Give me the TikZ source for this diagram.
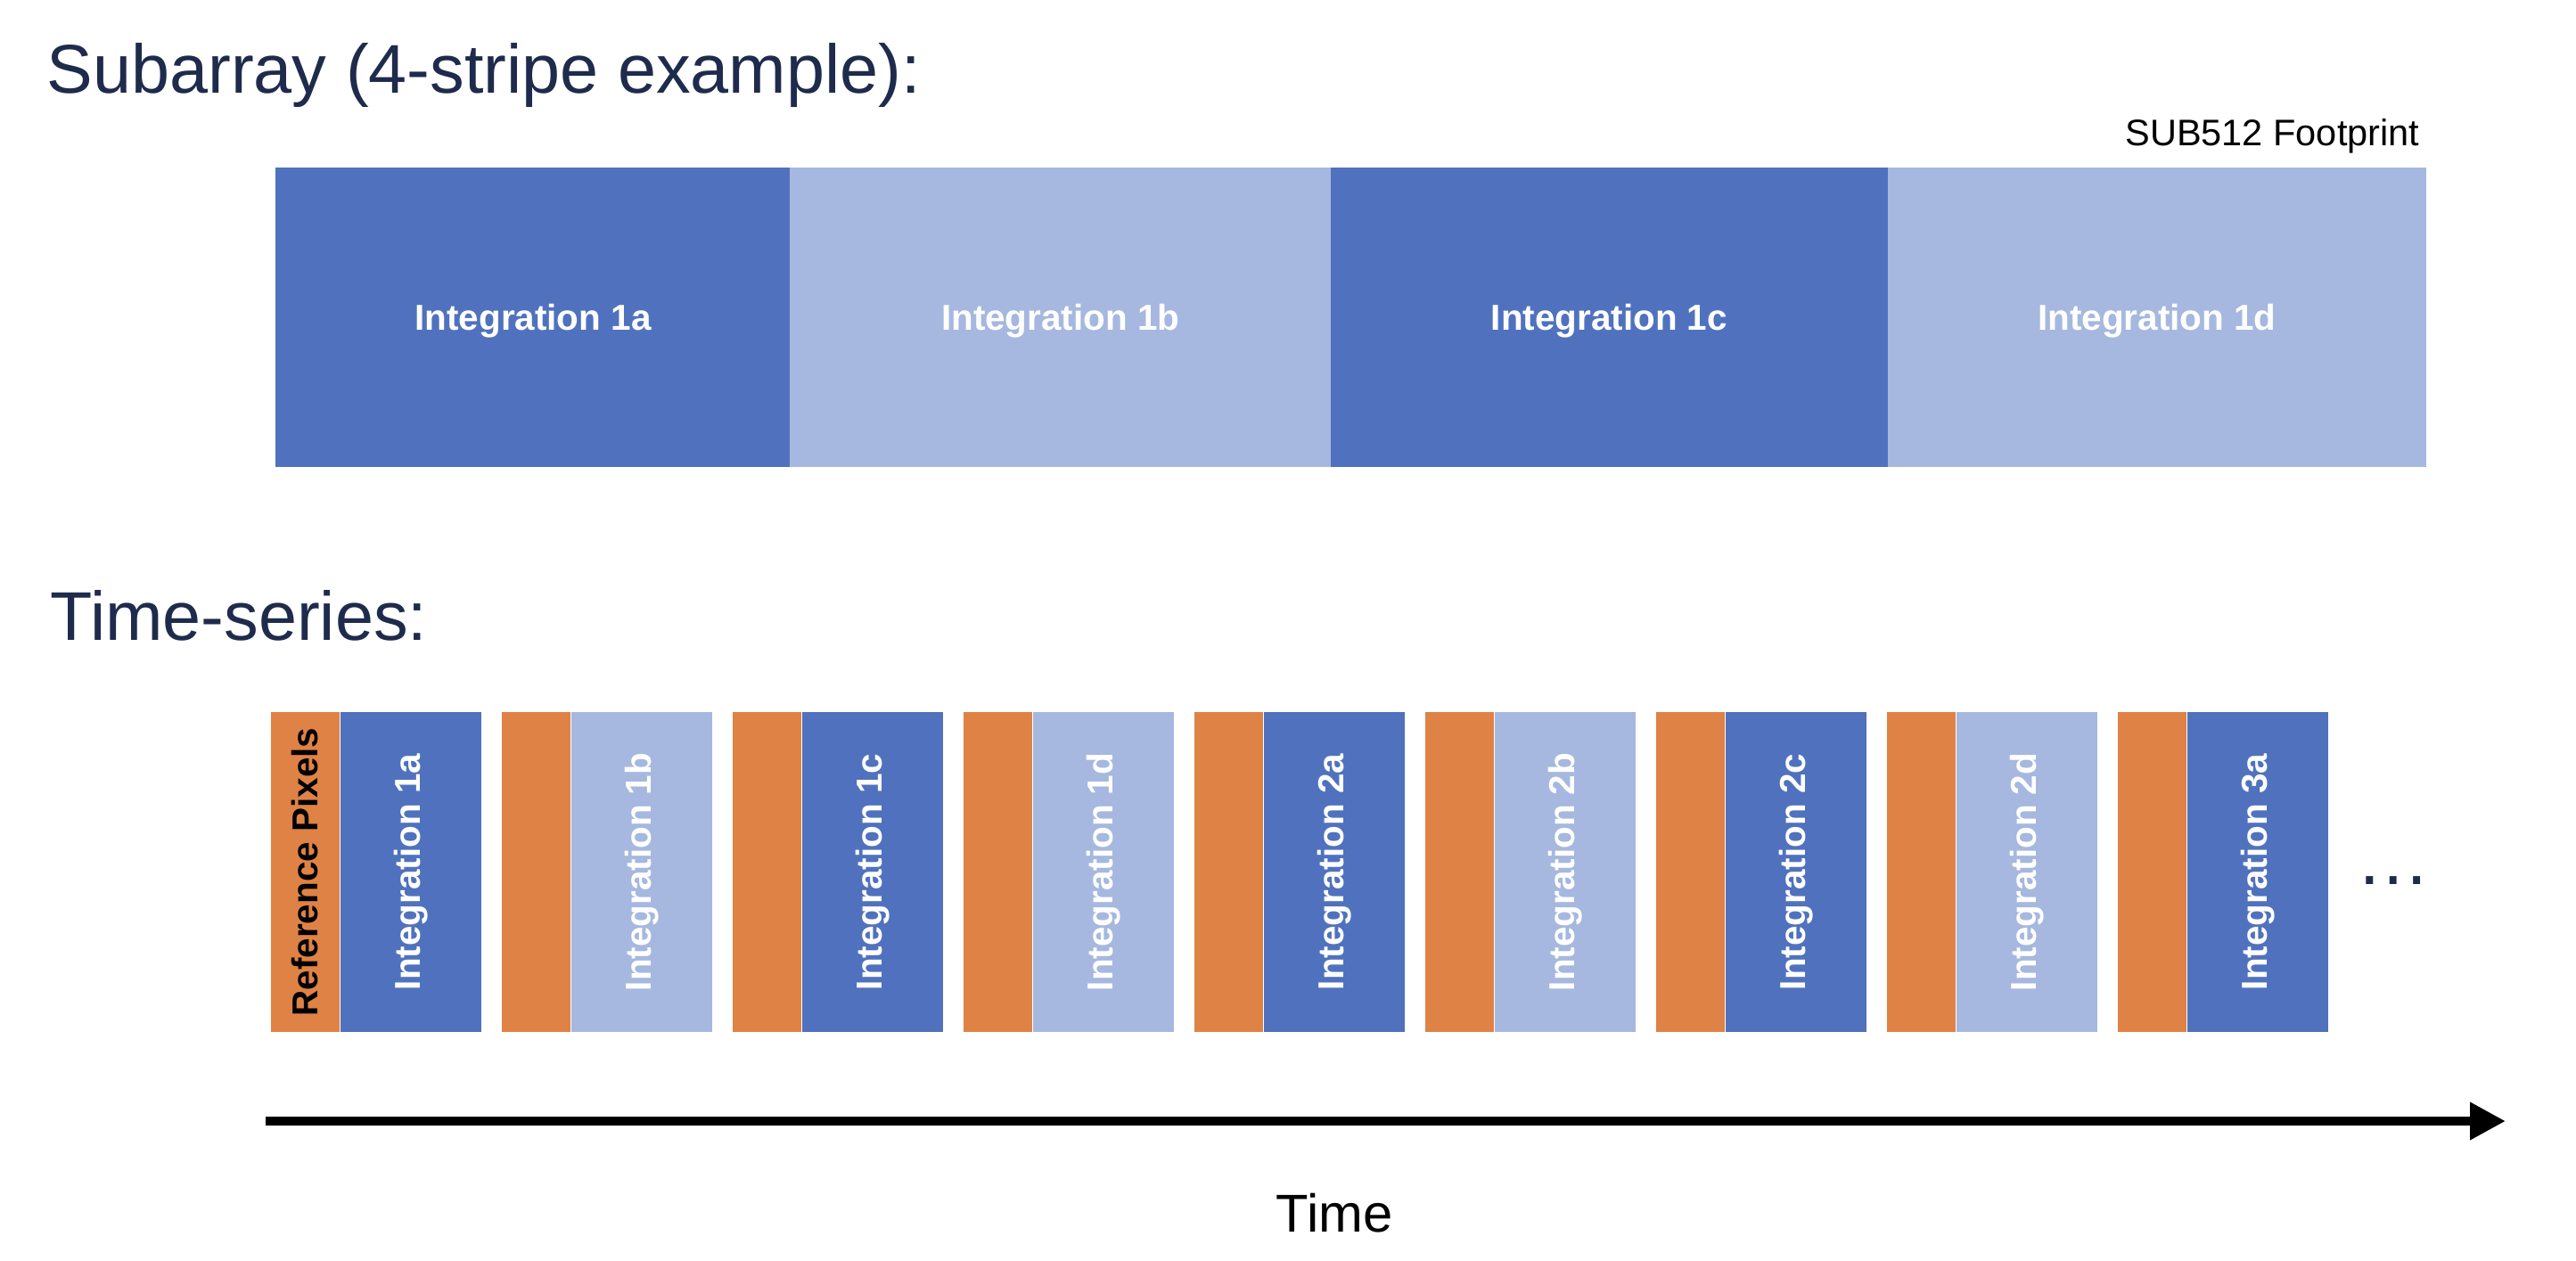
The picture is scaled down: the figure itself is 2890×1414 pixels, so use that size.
\documentclass[tikz,border=0pt]{standalone}
\usepackage{fontspec}
\setmainfont{Liberation Sans}
\usepackage{xcolor}
\usepackage{tikz}
\usetikzlibrary{arrows.meta}
\usetikzlibrary{positioning}
\definecolor{dkblue}{RGB}{80,114,190}
\definecolor{ltblue}{RGB}{166,184,223}
\definecolor{refpix}{RGB}{223,130,69}
\definecolor{navy}{RGB}{31,43,76}
\tikzstyle{heading} = [draw = none, inner sep = 0, text = navy, font = \fontsize{22}{26}\selectfont]
\tikzstyle{stripe} = [rectangle, draw = none, inner sep = 0, minimum height = 3.36cm, text = white, font = \fontsize{11.5}{13}\selectfont\bfseries]
\tikzstyle{refcol} = [rectangle, draw = none, inner sep = 0, minimum width = 0.765cm, minimum height = 3.59cm, fill = refpix, font = \fontsize{11.5}{13}\selectfont\bfseries]
\tikzstyle{intcol} = [rectangle, draw = none, inner sep = 0, minimum width = 1.58cm, minimum height = 3.59cm, text = white, font = \fontsize{11.5}{13}\selectfont\bfseries]

\begin{document}
\begin{tikzpicture}[x = 0.01cm, y = -0.01cm]
\useasboundingbox (0, 0) rectangle (2890, 1414);
\node [heading, anchor = base west] (title) at (52, 104) {Subarray (4-stripe example):};
\node [draw = none, inner sep = 0, anchor = base east, font = \fontsize{11.8}{14}\selectfont] (foot) at (2715, 163) {SUB512 Footprint};
% subarray stripes
\node [stripe, fill = dkblue, minimum width = 5.77cm] (S1a) at (598, 356) {};
\node [stripe, fill = ltblue, minimum width = 6.065cm] (S1b) at (1189.75, 356) {};
\node [stripe, fill = dkblue, minimum width = 6.247cm] (S1c) at (1805.35, 356) {};
\node [stripe, fill = ltblue, minimum width = 6.043cm] (S1d) at (2419.85, 356) {};
\foreach \s in {1a, 1b, 1c, 1d}
  \node [stripe, minimum height = 0, anchor = mid] at ([yshift = -0.05cm]S\s.center) {Integration \s};
%\node [heading] at (60, 700) {Time-series};
\node [heading, anchor = base west] (series) at (56, 718) {Time-series:};
\foreach \i/\lab/\col in {0/1a/dkblue, 1/1b/ltblue, 2/1c/dkblue, 3/1d/ltblue, 4/2a/dkblue, 5/2b/ltblue, 6/2c/dkblue, 7/2d/ltblue, 8/3a/dkblue} {
  \node [refcol] (R\i) at ({342.25 + 259*\i}, 978.5) {\ifnum\i=0 \rotatebox{90}{Reference Pixels}\fi};
  \node [intcol, fill = \col, right = 0pt of R\i] (I\i) {\rotatebox{90}{Integration \lab}};
}
\node [heading, anchor = base, font = \fontsize{23.7}{28}\selectfont] (more) at (2685, 992) {…};
\coordinate (t0) at (298, 1258);
\coordinate (t1) at (2811, 1258);
\draw [line width = 2.85pt, -{Triangle[length = 0.4cm, width = 0.4cm]}] (t0) -- (t1);
\node [draw = none, inner sep = 0, anchor = base, font = \fontsize{17}{20}\selectfont] (time) at (1497, 1382) {Time};
\end{tikzpicture}
\end{document}
